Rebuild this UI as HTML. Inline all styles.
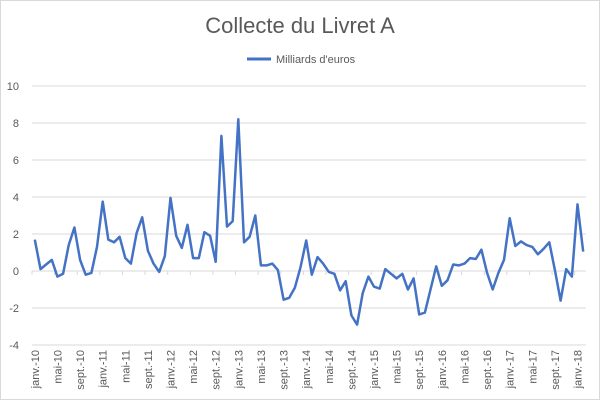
<!DOCTYPE html>
<html><head><meta charset="utf-8"><style>
body{margin:0;background:#fff}
svg{display:block;font-family:"Liberation Sans",sans-serif}
</style></head><body>
<svg id="chart" width="600" height="400">
<rect x="0.5" y="0.5" width="599" height="399" fill="#fff" stroke="#d9d9d9"/>
<text x="300" y="33" text-anchor="middle" font-size="22" fill="#595959">Collecte du Livret A</text>
<g>
<line x1="247" y1="59" x2="271" y2="59" stroke="#4472c4" stroke-width="3"/>
<text x="276" y="63" font-size="11" fill="#595959">Milliards d'euros</text>
</g>
<g id="grid"></g><g id="ylabels"></g><g id="xlabels"></g><g id="series"></g>
</svg>
<script>
const yTicks=[-4,-2,0,2,4,6,8,10];
const years=[10,11,12,13,14,15,16,17,18];
const monthNames=["janv.","mai","sept."];
const values=[
1.7,0.1,0.35,0.6,-0.3,-0.15,1.4,2.35,0.6,-0.2,-0.1,1.3,
3.75,1.7,1.55,1.85,0.7,0.4,2.05,2.9,1.1,0.4,-0.05,0.8,
3.95,1.9,1.25,2.5,0.7,0.7,2.1,1.9,0.5,7.3,2.4,2.7,
8.2,1.55,1.85,3.0,0.3,0.3,0.4,0.05,-1.55,-1.45,-0.9,0.2,
1.65,-0.2,0.75,0.4,-0.05,-0.15,-1.05,-0.55,-2.4,-2.9,-1.2,-0.3,
-0.85,-0.95,0.1,-0.15,-0.4,-0.15,-1.0,-0.4,-2.35,-2.25,-1.0,0.25,
-0.8,-0.5,0.35,0.3,0.4,0.7,0.65,1.15,-0.1,-1.0,-0.1,0.6,
2.85,1.35,1.6,1.4,1.3,0.9,1.2,1.55,0.05,-1.6,0.1,-0.3,
3.6,1.05];
const NS="http://www.w3.org/2000/svg";
const x0=32,x1=586,yMin=-4,yMax=10,py0=345,py1=86;
const n=values.length,step=(x1-x0)/n;
function X(i){return x0+step*(i+0.5);}
function Y(v){return py0-(v-yMin)/(yMax-yMin)*(py0-py1);}
const grid=document.getElementById('grid'),yl=document.getElementById('ylabels'),xl=document.getElementById('xlabels'),ser=document.getElementById('series');
yTicks.forEach(t=>{
 const l=document.createElementNS(NS,'line');
 
 
 l.setAttribute('x1',x0);l.setAttribute('x2',x1);l.setAttribute('y1',Y(t));l.setAttribute('y2',Y(t));
 l.setAttribute('stroke','#d9d9d9');l.setAttribute('stroke-width','1');
 grid.appendChild(l);
 const tx=document.createElementNS(NS,'text');
 
 
 tx.setAttribute('x',19);tx.setAttribute('y',Y(t)+4);tx.setAttribute('text-anchor','end');
 tx.setAttribute('font-size','11');tx.setAttribute('fill','#595959');tx.textContent=t;
 yl.appendChild(tx);
});
for(let i=0;i<n;i+=4){
 const yr=years[Math.floor(i/12)];
 const lab=monthNames[(i%12)/4]+"-"+yr;
 const tk=document.createElementNS(NS,'line');
 
 
 tk.setAttribute('x1',X(i)-step/2);tk.setAttribute('x2',X(i)-step/2);tk.setAttribute('y1',Y(0));tk.setAttribute('y2',Y(0)+4);
 tk.setAttribute('stroke','#d9d9d9');
 grid.appendChild(tk);
 const tx=document.createElementNS(NS,'text');
 
 
 const cx=X(i)+4,cy=350;
 tx.setAttribute('x',cx);tx.setAttribute('y',cy);tx.setAttribute('text-anchor','end');
 tx.setAttribute('transform','rotate(-90 '+cx+' '+cy+')');
 tx.setAttribute('font-size','11');tx.setAttribute('fill','#595959');tx.textContent=lab;
 xl.appendChild(tx);
}
const p=document.createElementNS(NS,'polyline');


p.setAttribute('points',values.map((v,i)=>X(i).toFixed(1)+','+Y(v).toFixed(1)).join(' '));
p.setAttribute('fill','none');p.setAttribute('stroke','#4472c4');p.setAttribute('stroke-width','2.5');p.setAttribute('stroke-linejoin','round');
ser.appendChild(p);
</script>
</body></html>
